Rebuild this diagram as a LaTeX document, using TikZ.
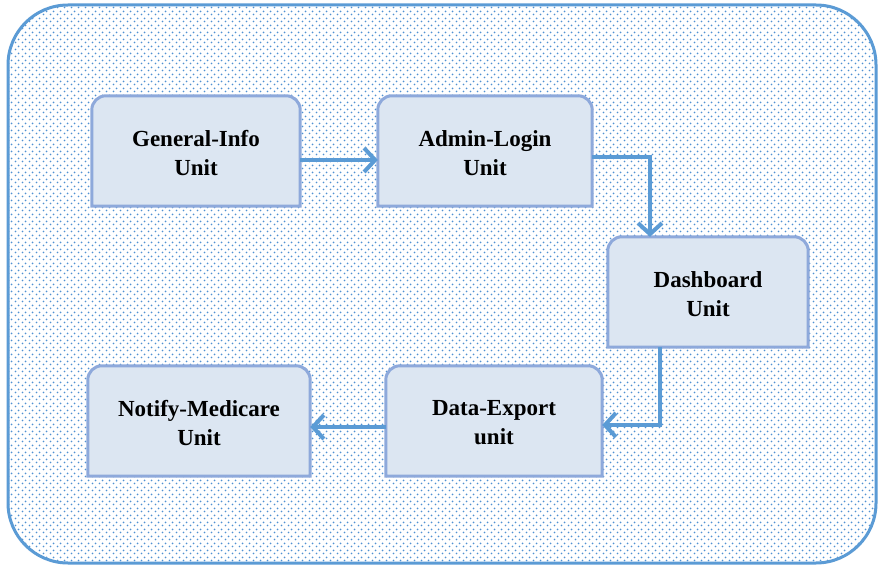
\documentclass[tikz,border=0pt]{standalone}
\usepackage{fontspec}
\setmainfont{Liberation Serif}
\usetikzlibrary{arrows.meta,patterns.meta}
\definecolor{outerblue}{RGB}{91,155,213}
\definecolor{dotblue}{RGB}{80,145,210}
\definecolor{boxfill}{RGB}{220,230,242}
\definecolor{boxline}{RGB}{142,169,219}
\definecolor{arrblue}{RGB}{91,155,213}
\tikzdeclarepattern{
  name=bluedots,
  type=colored,
  bottom left={(0pt,0pt)},
  top right={(7pt,7pt)},
  tile size={(7pt,7pt)},
  code={
    \fill[dotblue] (1.75pt,1.75pt) circle (1.1pt);
    \fill[dotblue] (5.25pt,5.25pt) circle (1.1pt);
  }
}
\tikzset{
  unit/.style={minimum height=110pt, inner sep=0pt, align=center,
    font=\fontsize{23}{29}\selectfont\bfseries, text=black},
  boxshape/.style={draw=boxline, fill=boxfill, line width=3pt},
  arr/.style={draw=arrblue, line width=4pt,
    -{Straight Barb[length=11pt,width=24pt,line width=4pt]}}
}
\begin{document}
\begin{tikzpicture}[x=1pt,y=-1pt]
\useasboundingbox (0,0) rectangle (883,569);
\fill[white] (0,0) rectangle (883,569);
\path[fill=white] (8,5) [rounded corners=60pt] rectangle (876,563);
\path[pattern=bluedots] (8,5) [rounded corners=60pt] rectangle (876,563);
\draw[outerblue, line width=3pt] (8,5) [rounded corners=60pt] rectangle (876,563);

\node[unit, minimum width=208pt] (gi) at (196,151) {};
\node[unit, minimum width=214pt] (al) at (485,151) {};
\node[unit, minimum width=200pt] (db) at (708,292) {};
\node[unit, minimum width=216pt] (de) at (494,421) {};
\node[unit, minimum width=222pt] (nm) at (199,421) {};

\foreach \n in {gi,al,db,de,nm}{
  \draw[boxshape] (\n.south west) [rounded corners=14pt] -- (\n.north west) -- (\n.north east) [sharp corners] -- (\n.south east) -- cycle;
}

\node[unit, minimum width=208pt] at ([yshift=-2pt]gi) {General-Info\\Unit};
\node[unit, minimum width=214pt] at ([yshift=-2pt]al) {Admin-Login\\Unit};
\node[unit, minimum width=200pt] at ([yshift=-2pt]db) {Dashboard\\Unit};
\node[unit, minimum width=216pt] at ([yshift=-2pt]de) {Data-Export\\unit};
\node[unit, minimum width=222pt] at ([yshift=-2pt]nm) {Notify-Medicare\\Unit};

\draw[arr] ([yshift=-9pt]gi.east) -- ([yshift=-9pt]al.west);
\draw[arr] ([yshift=-6pt]al.east) -| ([xshift=-58pt]db.north);
\draw[arr] ([xshift=-48pt]db.south) |- ([yshift=-4pt]de.east);
\draw[arr] ([yshift=-6pt]de.west) -- ([yshift=-6pt]nm.east);
\end{tikzpicture}
\end{document}
